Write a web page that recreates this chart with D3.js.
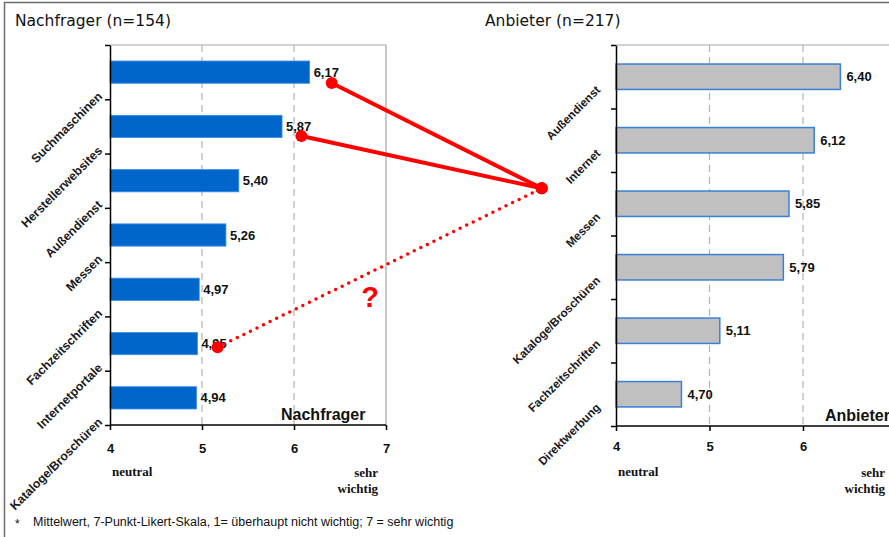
<!DOCTYPE html>
<html>
<head>
<meta charset="utf-8">
<script src="https://cdn.jsdelivr.net/npm/d3@7"></script>
<style>
body { margin: 0; background: #fff; }
svg { display: block; }
.axis path, .axis line { stroke: #000; stroke-width: 1.5px; }
.axis text { font-family: "Liberation Sans", Arial, sans-serif; font-weight: bold; font-size: 13px; fill: #111; }
</style>
</head>
<body>
<svg id="chart"></svg>
<script>
var width = 889, height = 537;

// Nachfrager (n=154)
var catsL = ["Suchmaschinen", "Herstellerwebsites", "Außendienst", "Messen", "Fachzeitschriften", "Internetportale", "Kataloge/Broschüren"];
var valsL = [6.17, 5.87, 5.40, 5.26, 4.97, 4.95, 4.94];

// Anbieter (n=217)
var catsR = ["Außendienst", "Internet", "Messen", "Kataloge/Broschüren", "Fachzeitschriften", "Direktwerbung"];
var valsR = [6.40, 6.12, 5.85, 5.79, 5.11, 4.70];

var xTicksL = [4, 5, 6, 7];
var xTicksR = [4, 5, 6];
var gridTicks = [5, 6];

// connector annotations: [side, value, category position] pairs
var linksSolid = [
	[["L", 6.41, 0.70], ["R", 3.205, 2.257]],
	[["L", 6.08, 1.676], ["R", 3.205, 2.257]]
];
var linksDotted = [
	[["L", 5.17, 5.568], ["R", 3.205, 2.257]]
];

var svg = d3.select("#chart").attr("width", width).attr("height", height);

// frame
svg.append("rect")
	.attr("x", 4.5).attr("y", 2.5)
	.attr("width", width + 10).attr("height", height + 10)
	.style("fill", "none").style("stroke", "#6e6e6e").style("stroke-width", "1.5px");

var fmt = function(v) { return d3.format(".2f")(v).replace(".", ","); };

var panelL = { left: 110, right: 386, top: 45, bottom: 425 };
var panelR = { left: 616, right: 616 + 3 * 93.5, top: 45, bottom: 426 };

var xL = d3.scaleLinear().domain([4, 7]).range([panelL.left, panelL.right]);
var xR = d3.scaleLinear().domain([4, 7]).range([panelR.left, panelR.right]);
var yL = d3.scaleBand().domain(catsL).range([panelL.top, panelL.bottom]).paddingInner(0.59).paddingOuter(0.295);
var yR = d3.scaleBand().domain(catsR).range([panelR.top, panelR.bottom]).paddingInner(0.6).paddingOuter(0.3);
var iL = d3.scaleLinear().domain([0, catsL.length]).range([panelL.top, panelL.bottom]);
var iR = d3.scaleLinear().domain([0, catsR.length]).range([panelR.top, panelR.bottom]);

function drawPanel(o) {
	var g = svg.append("g");

	// plot area border (top + right)
	g.append("path")
		.attr("d", "M" + o.p.left + "," + o.p.top + "L" + o.p.right + "," + o.p.top + "L" + o.p.right + "," + o.p.bottom)
		.style("fill", "none").style("stroke", "#a6a6a6").style("stroke-width", "1.2px");

	g.selectAll(".grid").data(gridTicks).enter().append("line")
		.attr("x1", function(d) { return o.x(d); }).attr("x2", function(d) { return o.x(d); })
		.attr("y1", o.p.top).attr("y2", o.p.bottom)
		.style("stroke", "#b3b3b3").style("stroke-width", "1.2px").style("stroke-dasharray", "7,5");

	// bars
	g.selectAll(".bar").data(o.vals).enter().append("rect")
		.attr("x", o.x(4))
		.attr("y", function(d, i) { return o.y(o.cats[i]); })
		.attr("width", function(d) { return o.x(d) - o.x(4); })
		.attr("height", o.y.bandwidth())
		.style("fill", o.fill).style("stroke", o.stroke).style("stroke-width", o.strokeW);

	g.selectAll(".val").data(o.vals).enter().append("text")
		.attr("x", function(d) { return o.x(d) + o.valGap; })
		.attr("y", function(d, i) { return o.y(o.cats[i]) + o.y.bandwidth() / 2 + 4.5; })
		.style("font-family", "Liberation Sans, Arial, sans-serif")
		.style("font-weight", "bold").style("font-size", "13px").style("fill", "#111")
		.text(fmt);

	// y axis with ticks on band edges
	var yAxis = d3.axisLeft(o.idx).tickValues(d3.range(o.cats.length + 1)).tickFormat("").tickSize(5).tickSizeOuter(0);
	g.append("g").attr("class", "axis").attr("transform", "translate(" + o.p.left + ",0)").call(yAxis);

	var xAxis = d3.axisBottom(o.x).tickValues(o.ticks).tickSize(5).tickSizeOuter(0).tickPadding(o.tickPad).tickFormat(d3.format("d"));
	var ax = g.append("g").attr("class", "axis").attr("transform", "translate(0," + o.p.bottom + ")").call(xAxis);
	ax.select(".domain").attr("d", "M" + o.p.left + ",0H" + (o.axisEnd));

	// rotated category labels
	g.selectAll(".cat").data(o.cats).enter().append("text")
		.attr("transform", function(d) {
			var cy = o.y(d) + o.y.bandwidth() / 2;
			return "translate(" + o.labX + "," + (cy + o.labDy) + ") rotate(-45)";
		})
		.attr("text-anchor", "end")
		.style("font-family", "Liberation Sans, Arial, sans-serif")
		.style("font-weight", "bold").style("font-size", o.labSize).style("fill", "#1a1a1a")
		.text(function(d) { return d; });

	// title
	svg.append("text").attr("x", o.titleX).attr("y", 26)
		.style("font-family", "DejaVu Sans, Verdana, sans-serif")
		.style("font-size", "15.5px").style("fill", "#111")
		.text(o.title);

	// in-plot name
	g.append("text").attr("x", o.nameX).attr("y", o.p.bottom - 5)
		.style("font-family", "Liberation Sans, Arial, sans-serif")
		.style("font-weight", "bold").style("font-size", "16px").style("fill", "#111")
		.text(o.name);

	// scale anchors
	var serif = "Liberation Serif, Times New Roman, serif";
	g.append("text").attr("x", o.x(4) + 2).attr("y", 476)
		.style("font-family", serif).style("font-weight", "bold").style("font-size", "13px").style("fill", "#111")
		.text("neutral");
	g.append("text").attr("x", o.sehrX).attr("y", 477).attr("text-anchor", "end")
		.style("font-family", serif).style("font-weight", "bold").style("font-size", "13px").style("fill", "#111")
		.text("sehr");
	g.append("text").attr("x", o.sehrX).attr("y", 493).attr("text-anchor", "end")
		.style("font-family", serif).style("font-weight", "bold").style("font-size", "13px").style("fill", "#111")
		.text("wichtig");
}

drawPanel({
	p: panelL, x: xL, y: yL, idx: iL, cats: catsL, vals: valsL, ticks: xTicksL,
	fill: "#0066cc", stroke: "#3d8ee6", strokeW: "0.8px", valGap: 4,
	tickPad: 14, axisEnd: panelL.right,
	labX: 103, labDy: 25, labSize: "12.3px",
	titleX: 15, title: "Nachfrager (n=154)",
	nameX: 281, name: "Nachfrager", sehrX: 378
});

drawPanel({
	p: panelR, x: xR, y: yR, idx: iR, cats: catsR, vals: valsR, ticks: xTicksR,
	fill: "#c0c0c0", stroke: "#3a80d8", strokeW: "1.5px", valGap: 6,
	tickPad: 11, axisEnd: width,
	labX: 601, labDy: 14, labSize: "11.7px",
	titleX: 485, title: "Anbieter (n=217)",
	nameX: 825, name: "Anbieter", sehrX: 885
});

// annotation connectors
function pt(a) {
	return a[0] == "L" ? [xL(a[1]), iL(a[2])] : [xR(a[1]), iR(a[2])];
}
var line = d3.line();
var ann = svg.append("g");

ann.selectAll(".dotted").data(linksDotted).enter().append("path")
	.attr("d", function(d) { return line(d.map(pt)); })
	.style("fill", "none").style("stroke", "#ff0000").style("stroke-width", "3.5px")
	.style("stroke-linecap", "round").style("stroke-dasharray", "0,7.3");

ann.selectAll(".solid").data(linksSolid).enter().append("path")
	.attr("d", function(d) { return line(d.map(pt)); })
	.style("fill", "none").style("stroke", "#ff0000").style("stroke-width", "4px");

var ends = [];
linksSolid.concat(linksDotted).forEach(function(l) { ends.push(l[0]); ends.push(l[1]); });
ann.selectAll("circle").data(ends).enter().append("circle")
	.attr("cx", function(d) { return pt(d)[0]; })
	.attr("cy", function(d) { return pt(d)[1]; })
	.attr("r", 6)
	.style("fill", "#ff0000");

ann.append("text")
	.attr("x", xL(6.826)).attr("y", iL(4.825))
	.attr("text-anchor", "middle")
	.style("font-family", "Liberation Sans, Arial, sans-serif")
	.style("font-weight", "bold").style("font-size", "29px").style("fill", "#ff0000")
	.text("?");

// footnote
svg.append("text").attr("x", 15).attr("y", 528)
	.style("font-family", "Liberation Sans, Arial, sans-serif").style("font-size", "12px").style("fill", "#111")
	.text("*");
svg.append("text").attr("x", 33).attr("y", 526)
	.style("font-family", "Liberation Sans, Arial, sans-serif").style("font-size", "12.5px").style("fill", "#111")
	.text("Mittelwert, 7-Punkt-Likert-Skala, 1= überhaupt nicht wichtig; 7 = sehr wichtig");
</script>
</body>
</html>
